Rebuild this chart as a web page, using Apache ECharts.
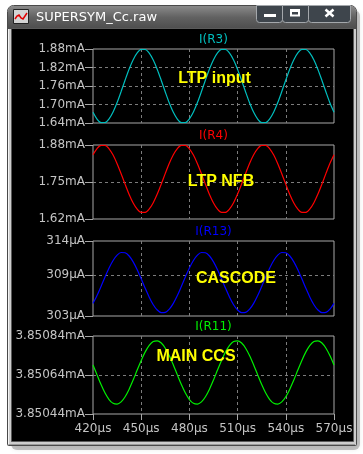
<!DOCTYPE html>
<html><head><meta charset="utf-8">
<script src="https://cdn.jsdelivr.net/npm/echarts@6/dist/echarts.min.js"></script>
<style>html,body{margin:0;padding:0;background:#fff;}#c{width:363px;height:454px;}</style>
</head><body><div id="c"></div><script>
const times = [420,422.5,425,427.5,430,432.5,435,437.5,440,442.5,445,447.5,450,452.5,455,457.5,460,462.5,465,467.5,
470,472.5,475,477.5,480,482.5,485,487.5,490,492.5,495,497.5,500,502.5,505,507.5,510,512.5,515,517.5,
520,522.5,525,527.5,530,532.5,535,537.5,540,542.5,545,547.5,550,552.5,555,557.5,560,562.5,565,567.5,570];

const iR3 = [1.6746,1.6527,1.6414,1.6416,1.6534,1.6757,1.7062,1.7420,1.7795,1.8152,1.8454,1.8673,1.8786,1.8784,1.8666,1.8443,1.8138,1.7780,1.7405,1.7048,
1.6746,1.6527,1.6414,1.6416,1.6534,1.6757,1.7062,1.7420,1.7795,1.8152,1.8454,1.8673,1.8786,1.8784,1.8666,1.8443,1.8138,1.7780,1.7405,1.7048,
1.6746,1.6527,1.6414,1.6416,1.6534,1.6757,1.7062,1.7420,1.7795,1.8152,1.8454,1.8673,1.8786,1.8784,1.8666,1.8443,1.8138,1.7780,1.7405,1.7048,
1.6746];

const iR4 = [1.8457,1.8674,1.8787,1.8784,1.8667,1.8446,1.8143,1.7789,1.7417,1.7063,1.6763,1.6546,1.6433,1.6436,1.6553,1.6774,1.7077,1.7431,1.7803,1.8157,
1.8457,1.8674,1.8787,1.8784,1.8667,1.8446,1.8143,1.7789,1.7417,1.7063,1.6763,1.6546,1.6433,1.6436,1.6553,1.6774,1.7077,1.7431,1.7803,1.8157,
1.8457,1.8674,1.8787,1.8784,1.8667,1.8446,1.8143,1.7789,1.7417,1.7063,1.6763,1.6546,1.6433,1.6436,1.6553,1.6774,1.7077,1.7431,1.7803,1.8157,
1.8457];

const iR13 = [304.854,306.005,307.342,308.734,310.044,311.144,311.926,312.315,312.271,311.800,310.946,309.795,308.458,307.066,305.756,304.656,303.874,303.485,303.529,304.000,
304.854,306.005,307.342,308.734,310.044,311.144,311.926,312.315,312.271,311.800,310.946,309.795,308.458,307.066,305.756,304.656,303.874,303.485,303.529,304.000,
304.854,306.005,307.342,308.734,310.044,311.144,311.926,312.315,312.271,311.800,310.946,309.795,308.458,307.066,305.756,304.656,303.874,303.485,303.529,304.000,
304.854];

const iR11 = [3.8506916,3.8506407,3.8505911,3.8505475,3.8505143,3.8504946,3.8504905,3.8505022,3.8505287,3.8505674,3.8506144,3.8506653,3.8507149,3.8507585,3.8507917,3.8508114,3.8508155,3.8508038,3.8507773,3.8507386,
3.8506916,3.8506407,3.8505911,3.8505475,3.8505143,3.8504946,3.8504905,3.8505022,3.8505287,3.8505674,3.8506144,3.8506653,3.8507149,3.8507585,3.8507917,3.8508114,3.8508155,3.8508038,3.8507773,3.8507386,
3.8506916,3.8506407,3.8505911,3.8505475,3.8505143,3.8504946,3.8504905,3.8505022,3.8505287,3.8505674,3.8506144,3.8506653,3.8507149,3.8507585,3.8507917,3.8508114,3.8508155,3.8508038,3.8507773,3.8507386,
3.8506916];

const xTicks = [420,450,480,510,540,570];
const r3Ticks = [1.64,1.70,1.76,1.82,1.88];
const r4Ticks = [1.62,1.75,1.88];
const r13Ticks = [303,309,314];
const r11Ticks = [3.85044,3.85064,3.85084];
const traceNames = ['I(R3)','I(R4)','I(R13)','I(R11)'];
const notes = ['LTP input','LTP NFB','CASCODE','MAIN CCS'];
const windowTitle = 'SUPERSYM_Cc.raw';

const panels = [
  {top:49, height:74, data:iR3, ticks:r3Ticks, dec:2, unit:'mA', color:'#00bfbf', nx:214.5, ny:79, ty:40},
  {top:145, height:74, data:iR4, ticks:r4Ticks, dec:2, unit:'mA', color:'#ff0000', nx:221, ny:182, ty:135.5},
  {top:241, height:75, data:iR13, ticks:r13Ticks, dec:0, unit:'\u00b5A', color:'#0000ff', nx:236, ny:279, ty:231.5},
  {top:336, height:78, data:iR11, ticks:r11Ticks, dec:5, unit:'mA', color:'#00f000', nx:196, ny:356.5, ty:327}
];
const GL = 93, GW = 241;
const axisGray = '#a8a8a8', gridGray = '#7c7c7c', labelGray = '#c4c4c4';
const labelFont = {color:labelGray, fontFamily:'DejaVu Sans', fontSize:12};

const grids = [], xAxes = [], yAxes = [], series = [], graphics = [];

// window chrome
const GRAD = (a,b,c)=> new echarts.graphic.LinearGradient(0,0,0,1,[{offset:0,color:a},{offset:0.5,color:b},{offset:1,color:c}]);
graphics.push(
  {type:'rect', z:-40, shape:{x:11,y:10,width:349,height:440,r:6}, style:{fill:'rgba(0,0,0,0.22)', shadowBlur:5, shadowColor:'rgba(0,0,0,0.35)'}},
  {type:'rect', z:-39, shape:{x:7.5,y:5.5,width:349,height:440,r:[6,6,1,1]}, style:{fill:'#cdcdcd', stroke:'#4a4a4a', lineWidth:1}},
  {type:'line', z:-38, shape:{x1:8.5,y1:28,x2:8.5,y2:444}, style:{stroke:'#f4f4f4', lineWidth:1}},
  {type:'line', z:-38, shape:{x1:8.5,y1:444.5,x2:355,y2:444.5}, style:{stroke:'#9a9a9a', lineWidth:1}},
  {type:'rect', z:-37, shape:{x:8,y:6,width:348,height:23,r:[5,5,0,0]}, style:{fill:GRAD('#8a8a8a','#616161','#4d4d4d')}},
  {type:'rect', z:-36, shape:{x:11.5,y:28.5,width:342,height:413}, style:{fill:'#000', stroke:'#5a5a5a', lineWidth:1}},
  {type:'rect', z:-35, shape:{x:13.5,y:9.5,width:15,height:14}, style:{fill:'#d4d4d4', stroke:'#222', lineWidth:1}},
  {type:'polyline', z:-34, shape:{points:[[15,19],[17,16],[19,15],[21,18],[23,19],[25,16],[27,13]]}, style:{stroke:'#e00000', lineWidth:1.5, fill:null}},
  {type:'text', z:-34, style:{text:windowTitle, x:36, y:18, fill:'#ffffff', font:'13px "DejaVu Sans"', align:'left', verticalAlign:'middle', textAlign:'left', textVerticalAlign:'middle'}},
  {type:'rect', z:-34, shape:{x:256.5,y:5.5,width:26,height:17,r:[0,0,3,3]}, style:{fill:'#3e454c', stroke:'#a4a8ac', lineWidth:1}},
  {type:'rect', z:-34, shape:{x:282.5,y:5.5,width:26,height:17,r:[0,0,3,3]}, style:{fill:'#3e454c', stroke:'#a4a8ac', lineWidth:1}},
  {type:'rect', z:-34, shape:{x:308.5,y:5.5,width:42,height:17,r:[0,0,3,3]}, style:{fill:'#3e454c', stroke:'#a4a8ac', lineWidth:1}},
  {type:'rect', z:-33, shape:{x:264,y:14,width:12,height:3}, style:{fill:'#ffffff'}},
  {type:'rect', z:-33, shape:{x:290,y:9,width:10,height:7.5}, style:{fill:'#ffffff'}},
  {type:'rect', z:-32, shape:{x:292,y:12,width:6,height:2.5}, style:{fill:'#3e454c'}},
  {type:'line', z:-33, shape:{x1:325.5,y1:9.5,x2:333.5,y2:16.5}, style:{stroke:'#ffffff', lineWidth:2.5}},
  {type:'line', z:-33, shape:{x1:333.5,y1:9.5,x2:325.5,y2:16.5}, style:{stroke:'#ffffff', lineWidth:2.5}}
);

panels.forEach((p,i)=>{
  grids.push({left:GL, top:p.top, width:GW, height:p.height, show:true, borderColor:axisGray, borderWidth:1,
    backgroundColor:'transparent', containLabel:false, outerBoundsMode:'none'});
  const last = i === panels.length-1;
  xAxes.push({type:'value', gridIndex:i, min:xTicks[0], max:xTicks[xTicks.length-1], interval:xTicks[1]-xTicks[0],
    axisLine:{show:false},
    axisTick:{show:last, length:6, lineStyle:{color:axisGray}},
    axisLabel:Object.assign({show:last, margin:9, showMinLabel:true, showMaxLabel:true, hideOverlap:false,
      formatter:v=>v+'\u00b5s'}, labelFont),
    splitLine:{show:true, showMinLine:false, showMaxLine:false, lineStyle:{color:gridGray, type:[3,3], width:1}}
  });
  yAxes.push({type:'value', gridIndex:i, min:p.ticks[0], max:p.ticks[p.ticks.length-1], scale:true,
    axisLine:{show:false},
    axisTick:{show:true, length:8, customValues:p.ticks, lineStyle:{color:axisGray}},
    axisLabel:Object.assign({margin:8, customValues:p.ticks, showMinLabel:true, showMaxLabel:true, hideOverlap:false,
      formatter:v=>(p.dec===0?Math.round(v):v.toFixed(p.dec))+p.unit}, labelFont),
    splitLine:{show:true, showMinLine:false, showMaxLine:false, lineStyle:{color:gridGray, type:[3,3], width:1}}
  });
  series.push({type:'line', xAxisIndex:i, yAxisIndex:i, name:traceNames[i],
    data:times.map((t,k)=>[t,p.data[k]]), showSymbol:false, symbol:'none', smooth:0.3,
    lineStyle:{color:p.color, width:1.2}, z:5, silent:true});
  graphics.push({type:'text', z:20, style:{text:traceNames[i], x:GL+GW/2, y:p.ty, fill:p.color,
    font:'12px "DejaVu Sans"', align:'center', verticalAlign:'middle', textAlign:'center', textVerticalAlign:'middle'}});
  graphics.push({type:'text', z:30, style:{text:notes[i], x:p.nx, y:p.ny, fill:'#ffff00',
    font:'bold 16px "Liberation Sans"', align:'center', verticalAlign:'middle', textAlign:'center', textVerticalAlign:'middle'}});
});

const chart = echarts.init(document.getElementById('c'), null, {renderer:'canvas'});
chart.setOption({
  backgroundColor:'#ffffff',
  animation:false,
  grid:grids, xAxis:xAxes, yAxis:yAxes, series:series,
  graphic:{elements:graphics}
});
</script></body></html>
